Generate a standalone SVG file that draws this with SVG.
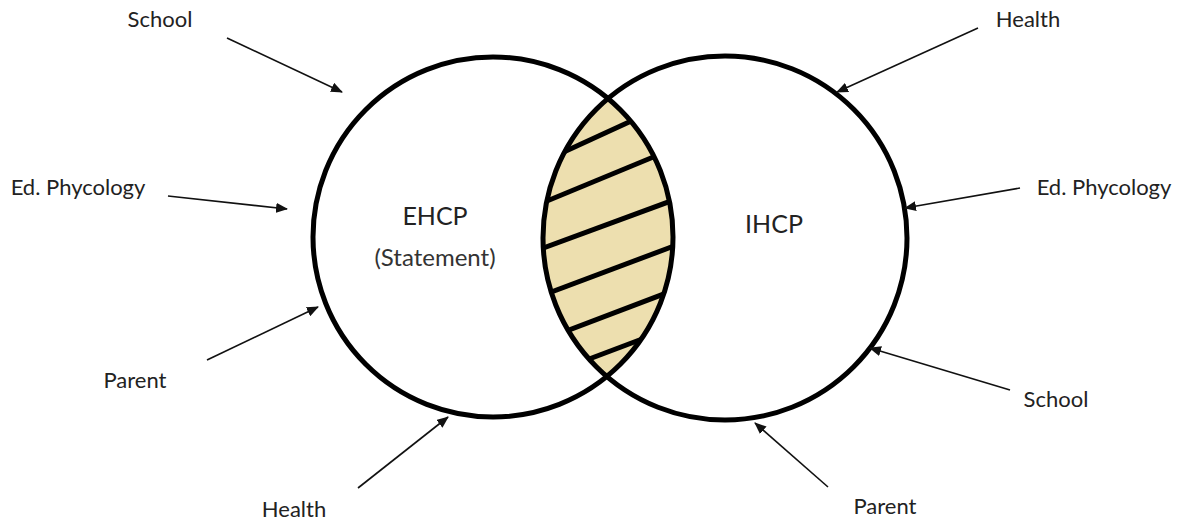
<svg xmlns="http://www.w3.org/2000/svg" width="1182" height="524" viewBox="0 0 1182 524">
  <style>
    .lbl { font-family: Lato, "Liberation Sans", sans-serif; font-size: 22px; fill: #222; text-anchor: middle; }
    .big { font-size: 25px; }
    .mid { font-size: 24px; fill: #333; }
    .conn { stroke: #111; stroke-width: 1.6; fill: none; marker-end: url(#arr); }
    .ring { fill: none; stroke: #000; stroke-width: 5; }
    .hatch { stroke: #000; stroke-width: 5; fill: none; }
  </style>
  <defs>
    <marker id="arr" viewBox="0 0 12 10" refX="11" refY="5" markerWidth="12" markerHeight="10" markerUnits="userSpaceOnUse" orient="auto">
      <path d="M0,0 L12,5 L0,10 z" fill="#111"/>
    </marker>
    <clipPath id="clipL"><circle cx="493" cy="237" r="180"/></clipPath>
    <clipPath id="clipR"><circle cx="725" cy="238" r="182"/></clipPath>
  </defs>
  <rect width="1182" height="524" fill="#fff"/>

  <g id="overlap">
    <g clip-path="url(#clipL)">
      <g clip-path="url(#clipR)">
        <rect x="520" y="80" width="180" height="320" fill="#EDDFAF"/>
        <line class="hatch" x1="540" y1="163" x2="640" y2="117"/>
        <line class="hatch" x1="530" y1="208" x2="680" y2="146"/>
        <line class="hatch" x1="530" y1="253" x2="690" y2="194"/>
        <line class="hatch" x1="530" y1="300" x2="690" y2="240"/>
        <line class="hatch" x1="540" y1="341" x2="690" y2="284"/>
        <line class="hatch" x1="560" y1="370" x2="690" y2="321"/>
      </g>
    </g>
  </g>

  <g id="ehcp">
    <circle class="ring" cx="493" cy="237" r="180"/>
    <text class="lbl big" x="435" y="225">EHCP</text>
    <text class="lbl mid" x="435" y="266">(Statement)</text>
  </g>
  <g id="ihcp">
    <circle class="ring" cx="725" cy="238" r="182"/>
    <text class="lbl big" x="774" y="233">IHCP</text>
  </g>

  <g id="labels">
    <text id="school-l" class="lbl" x="160" y="27">School</text>
    <text id="edpsy-l" class="lbl" x="78" y="195">Ed. Phycology</text>
    <text id="parent-l" class="lbl" x="135" y="388">Parent</text>
    <text id="health-b" class="lbl" x="294" y="517">Health</text>
    <text id="health-r" class="lbl" x="1028" y="27">Health</text>
    <text id="edpsy-r" class="lbl" x="1104" y="195">Ed. Phycology</text>
    <text id="school-r" class="lbl" x="1056" y="407">School</text>
    <text id="parent-r" class="lbl" x="885" y="514">Parent</text>
  </g>

  <g id="connectors">
    <line class="conn" x1="227" y1="38" x2="342" y2="92"/>
    <line class="conn" x1="168" y1="196" x2="287" y2="209"/>
    <line class="conn" x1="207" y1="360" x2="318" y2="307"/>
    <line class="conn" x1="358" y1="488" x2="448" y2="417"/>
    <line class="conn" x1="978" y1="28" x2="837" y2="92"/>
    <line class="conn" x1="1020" y1="188" x2="905" y2="208"/>
    <line class="conn" x1="1010" y1="390" x2="870" y2="348"/>
    <line class="conn" x1="828" y1="487" x2="755" y2="423"/>
  </g>
</svg>
